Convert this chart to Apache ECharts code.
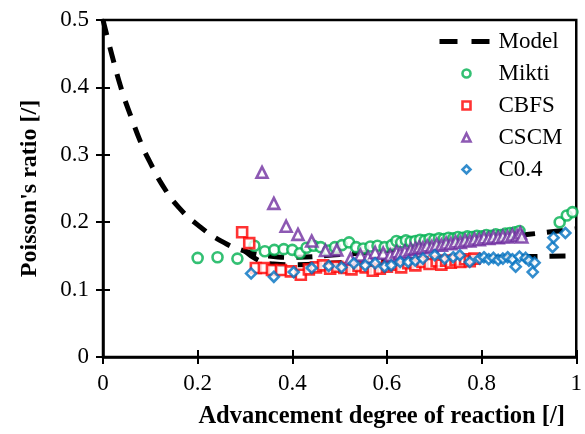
<!DOCTYPE html>
<html>
<head>
<meta charset="utf-8">
<script src="https://cdn.jsdelivr.net/npm/echarts@6/dist/echarts.min.js"></script>
<style>html,body{margin:0;padding:0;background:#fff}#c{width:585px;height:434px}</style>
</head>
<body>
<div id="c"></div>
<script>
const xTicks = [0, 0.2, 0.4, 0.6, 0.8, 1];
const yTicks = [0, 0.1, 0.2, 0.3, 0.4, 0.5];

const modelUpper = [[0,0.5],[0.02,0.445],[0.04,0.395],[0.06,0.355],[0.08,0.318],[0.1,0.288],[0.13,0.25],[0.16,0.222],[0.2,0.196],[0.25,0.172],[0.3,0.157],[0.35,0.150],[0.4,0.148],[0.5,0.152],[0.6,0.158],[0.7,0.166],[0.8,0.174],[0.9,0.182],[1.0,0.19]];
const modelLower = [[0.3,0.157],[0.33,0.143],[0.36,0.138],[0.4,0.137],[0.5,0.140],[0.6,0.143],[0.7,0.145],[0.8,0.147],[0.9,0.149],[1.0,0.15]];

const mikti = [[0.200,0.147],[0.242,0.148],[0.284,0.146],[0.320,0.165],[0.342,0.157],[0.362,0.159],[0.382,0.160],[0.400,0.159],[0.416,0.154],[0.430,0.162],[0.445,0.165],[0.460,0.163],[0.476,0.158],[0.490,0.163],[0.505,0.166],[0.520,0.170],[0.535,0.163],[0.550,0.161],[0.565,0.164],[0.580,0.165],[0.595,0.163],[0.610,0.166],[0.620,0.172],[0.630,0.170],[0.640,0.173],[0.650,0.171],[0.660,0.172],[0.670,0.174],[0.680,0.173],[0.690,0.175],[0.700,0.174],[0.710,0.176],[0.720,0.175],[0.730,0.177],[0.740,0.176],[0.750,0.178],[0.760,0.177],[0.770,0.179],[0.780,0.178],[0.790,0.180],[0.800,0.179],[0.810,0.181],[0.820,0.180],[0.830,0.182],[0.840,0.181],[0.850,0.183],[0.860,0.184],[0.870,0.185],[0.880,0.187],[0.965,0.200],[0.980,0.210],[0.992,0.215]];

const cbfs = [[0.294,0.185],[0.309,0.169],[0.323,0.132],[0.340,0.132],[0.357,0.129],[0.376,0.129],[0.397,0.127],[0.418,0.122],[0.435,0.130],[0.450,0.133],[0.465,0.136],[0.480,0.131],[0.495,0.134],[0.510,0.132],[0.525,0.130],[0.540,0.135],[0.555,0.133],[0.570,0.128],[0.585,0.131],[0.600,0.134],[0.615,0.137],[0.630,0.133],[0.645,0.139],[0.660,0.136],[0.675,0.141],[0.690,0.138],[0.705,0.142],[0.715,0.137],[0.725,0.143],[0.735,0.140],[0.745,0.144],[0.755,0.141],[0.765,0.145],[0.775,0.142],[0.785,0.146]];

const cscm = [[0.336,0.274],[0.361,0.228],[0.387,0.194],[0.412,0.182],[0.441,0.172],[0.470,0.158],[0.494,0.159],[0.523,0.146],[0.544,0.151],[0.560,0.148],[0.575,0.155],[0.592,0.154],[0.607,0.151],[0.620,0.156],[0.628,0.154],[0.638,0.157],[0.650,0.160],[0.660,0.161],[0.668,0.163],[0.676,0.162],[0.685,0.165],[0.695,0.164],[0.705,0.167],[0.715,0.166],[0.725,0.169],[0.735,0.168],[0.745,0.171],[0.755,0.170],[0.765,0.173],[0.775,0.172],[0.785,0.175],[0.795,0.174],[0.805,0.177],[0.815,0.176],[0.825,0.178],[0.835,0.177],[0.845,0.179],[0.855,0.178],[0.865,0.181],[0.875,0.180],[0.882,0.184],[0.885,0.178]];

const c04 = [[0.313,0.124],[0.361,0.119],[0.403,0.126],[0.441,0.132],[0.477,0.135],[0.504,0.133],[0.530,0.139],[0.554,0.136],[0.575,0.139],[0.595,0.134],[0.609,0.136],[0.628,0.141],[0.645,0.141],[0.660,0.143],[0.676,0.146],[0.701,0.151],[0.722,0.146],[0.740,0.148],[0.754,0.151],[0.775,0.141],[0.796,0.146],[0.805,0.148],[0.815,0.145],[0.825,0.147],[0.835,0.144],[0.845,0.146],[0.855,0.148],[0.865,0.145],[0.872,0.134],[0.880,0.149],[0.893,0.147],[0.900,0.143],[0.908,0.126],[0.912,0.140],[0.950,0.163],[0.952,0.177],[0.977,0.184]];

const FONT = "'Liberation Serif', 'Times New Roman', serif";
const chart = echarts.init(document.getElementById('c'), null, {renderer: 'canvas'});

const ICONS = {
  circle: 'path://M0,5a5,5 0 1,0 10,0a5,5 0 1,0 -10,0Z',
  rect: 'path://M0,0H10V10H0Z',
  triangle: 'path://M5,0L10,10H0Z',
  diamond: 'path://M5,0L10,5L5,10L0,5Z'
};

function scatter(name, data, symbol, size, color) {
  return {
    name, type: 'scatter', data, symbol, symbolSize: size,
    itemStyle: {color: '#fff', borderColor: color, borderWidth: 2.6},
    z: 3
  };
}
const modelStyle = {color: '#000', width: 5, type: [16, 12], cap: 'butt'};

chart.setOption({
  animation: false,
  grid: {left: 103, right: 6, top: 20, bottom: 77, show: true, borderColor: '#000', borderWidth: 2.5},
  legend: {
    orient: 'vertical', left: 432, top: 25, itemWidth: 54, itemHeight: 8, itemGap: 9,
    symbolKeepAspect: true,
    textStyle: {fontFamily: FONT, fontSize: 23, color: '#000'},
    data: [
      {name: 'Model', lineStyle: {color: '#000', width: 5, type: [18, 14], cap: 'butt'},
        itemStyle: {color: 'rgba(0,0,0,0)', borderColor: 'rgba(0,0,0,0)', borderWidth: 0, opacity: 0}},
      {name: 'Mikti', icon: ICONS.circle, itemStyle: {color: '#fff', borderColor: '#00B050', borderWidth: 2.6}},
      {name: 'CBFS', icon: ICONS.rect, itemStyle: {color: '#fff', borderColor: '#FF0000', borderWidth: 2.6}},
      {name: 'CSCM', icon: ICONS.triangle, itemStyle: {color: '#fff', borderColor: '#7030A0', borderWidth: 2.6}},
      {name: 'C0.4', icon: ICONS.diamond, itemStyle: {color: '#fff', borderColor: '#0070C0', borderWidth: 2.6}}
    ]
  },
  xAxis: [{
    type: 'value', min: 0, max: 1, interval: 0.2,
    axisLine: {lineStyle: {color: '#000', width: 2.5}},
    axisTick: {length: 7, lineStyle: {color: '#000', width: 2}},
    axisLabel: {fontFamily: FONT, fontSize: 23, color: '#000', margin: 15,
      formatter: v => xTicks.includes(+v.toFixed(1)) ? String(+v.toFixed(1)) : ''},
    splitLine: {show: false},
    name: 'Advancement degree of reaction [/]', nameLocation: 'middle', nameGap: 47,
    nameTextStyle: {fontFamily: FONT, fontSize: 24.5, fontWeight: 'bold', color: '#000', padding: [0, 0, 0, 84]}
  }, {
    type: 'value', min: 0, max: 1, interval: 0.2, position: 'bottom',
    axisLine: {show: false}, axisLabel: {show: false}, splitLine: {show: false},
    axisTick: {inside: true, length: 7, lineStyle: {color: '#000', width: 2}}
  }],
  yAxis: [{
    type: 'value', min: 0, max: 0.5, interval: 0.1,
    axisLine: {lineStyle: {color: '#000', width: 2.5}},
    axisTick: {length: 7, lineStyle: {color: '#000', width: 2}},
    axisLabel: {fontFamily: FONT, fontSize: 23, color: '#000', margin: 14,
      formatter: v => yTicks.includes(+v.toFixed(1)) ? String(+v.toFixed(1)) : ''},
    splitLine: {show: false},
    name: "Poisson's ratio [/]", nameLocation: 'middle', nameGap: 61,
    nameTextStyle: {fontFamily: FONT, fontSize: 24, fontWeight: 'bold', color: '#000'}
  }, {
    type: 'value', min: 0, max: 0.5, interval: 0.1, position: 'left',
    axisLine: {show: false}, axisLabel: {show: false}, splitLine: {show: false},
    axisTick: {inside: true, length: 7, lineStyle: {color: '#000', width: 2}}
  }],
  series: [
    {name: 'Model', type: 'line', data: modelUpper, smooth: true, symbol: 'none', lineStyle: modelStyle, itemStyle: {color: '#000'}, z: 2},
    {name: 'Model', type: 'line', data: modelLower, smooth: true, symbol: 'none', lineStyle: modelStyle, itemStyle: {color: '#000'}, z: 2},
    scatter('Mikti', mikti, 'circle', 10, '#00B050'),
    scatter('CBFS', cbfs, 'rect', 10, '#FF0000'),
    scatter('CSCM', cscm, 'triangle', 11, '#7030A0'),
    scatter('C0.4', c04, 'diamond', 10, '#0070C0')
  ]
});
</script>
</body>
</html>
